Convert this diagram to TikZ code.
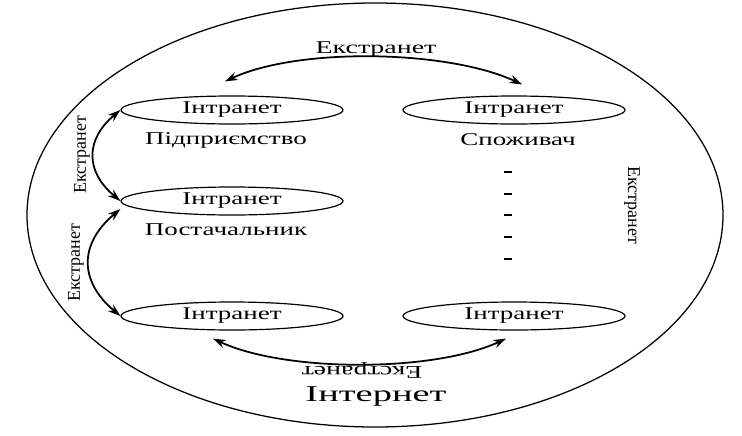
\documentclass[tikz,border=0pt]{standalone}
\usepackage{fontspec}
\usepackage{graphicx}
\setmainfont{Liberation Serif}
\usetikzlibrary{shapes.geometric,arrows.meta,calc}
\newcommand{\wide}[2][1.5]{\scalebox{#1}[1]{#2}}

\begin{document}
\begin{tikzpicture}[x=0.025cm,y=0.025cm,
  every node/.style={font=\fontsize{12.8}{15}\selectfont,inner sep=1pt},
  intra/.style={draw,ellipse,line width=0.85pt,minimum width=5.55cm,minimum height=0.7cm,inner sep=0pt},
  ext/.style={line width=1.25pt,{Stealth[length=9pt,width=6pt]}-{Stealth[length=9pt,width=6pt]}}]

\useasboundingbox (0,0) rectangle (742,-435);

\draw[line width=0.9pt] (375,-215) ellipse [x radius=348, y radius=212];

\node[intra](e1) at(232,-110) {\wide{Інтранет}};
\node[intra](e2) at(514,-110) {\wide{Інтранет}};
\node[intra](e3) at(232,-201) {\wide{Інтранет}};
\node[intra](e4) at(232,-316) {\wide{Інтранет}};
\node[intra](e5) at(514,-316) {\wide{Інтранет}};

\node(firm) at(226,-140) {\wide{Підприємство}};
\node(buyer) at(518,-140) {\wide{Споживач}};
\node(supplier) at(226,-230) {\wide{Постачальник}};

\foreach \y in {172,194,215,237,259}
  \draw[line width=0.9pt] (504,-\y) -- (512,-\y);

\draw[ext]
($(e1.north)+(-7,14)$) to[out=25, in=155, looseness=0.7]
($(e2.north)+(8,11)$)
;
\draw[ext]
($(e4.south)+(-19,-8)$) to[out=-25, in=-155, looseness=0.7]
($(e5.south)+(-8,-8)$)
;
\draw[ext]
(e1.west) to[out=-140, in=140, looseness=1.3]
(e3.west)
;
\draw[ext]
($(e3.west)+(0,-8)$) to[out=-140, in=140, looseness=1.3]
(e4.west)
;

\node(xtop) at(376,-50) {\wide[1.55]{Екстранет}};
\node(xbot) at(362,-370) [rotate=180] {\wide[1.55]{Екстранет}};
\node(xleft1) at(82,-155) [rotate=90] {Екстранет};
\node(xleft2) at(76,-263) [rotate=90] {Екстранет};
\node(xright) at(632,-205) [rotate=-90] {Екстранет};
\node(net) at(376,-396) {\fontsize{16.1}{19}\selectfont\wide[1.7]{Інтернет}};

\end{tikzpicture}
\end{document}
